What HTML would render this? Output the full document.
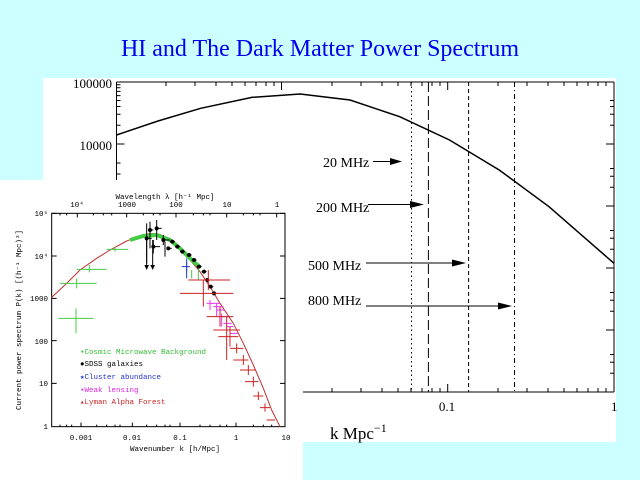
<!DOCTYPE html>
<html><head><meta charset="utf-8"><style>
html,body{margin:0;padding:0;width:640px;height:480px;overflow:hidden;background:#ccffff}
svg{display:block}
</style></head><body>
<svg width="640" height="480" xmlns="http://www.w3.org/2000/svg">
<rect width="640" height="480" fill="#ccffff"/>
<text x="320" y="56" text-anchor="middle" font-family="Liberation Serif, serif" font-size="24" fill="#0000ee">HI and The Dark Matter Power Spectrum</text>
<!-- main panel -->
<rect x="43" y="78" width="573" height="364" fill="#fff"/>
<g stroke="#000" fill="none" stroke-width="1">
<line x1="116.5" y1="82" x2="614" y2="82"/>
<line x1="614" y1="82" x2="614" y2="392"/>
<line x1="116.5" y1="82" x2="116.5" y2="180"/>
<line x1="300" y1="392" x2="614" y2="392"/>
<!-- y ticks -->
<path d="M116.5 82h8M116.5 144h8M614 82h-8M614 144h-8M614 206h-8M614 268h-8M614 330h-8
M116.5 125.3h4M116.5 114.3h4M116.5 106.5h4M116.5 100.5h4M116.5 95.6h4M116.5 91.4h4M116.5 87.8h4M116.5 84.8h4
M116.5 163h4M116.5 174h4
M614 125.3h-4M614 114.3h-4M614 106.5h-4M614 100.5h-4M614 187.3h-4M614 176.3h-4M614 168.5h-4M614 249.3h-4M614 238.3h-4M614 230.5h-4M614 311.3h-4M614 300.3h-4M614 292.5h-4M614 373.3h-4M614 362.3h-4M614 354.5h-4"/>
<!-- x ticks top -->
<path d="M166 82v4M195 82v4M216 82v4M232 82v4M245 82v4M256 82v4M266 82v4M274 82v4M281.5 82v8M332 82v4M361 82v4M382 82v4M398 82v4M411 82v4M422 82v4M432 82v4M440 82v4M447.7 82v8M498 82v4M527 82v4M548 82v4M564 82v4M577 82v4M588 82v4M598 82v4M606 82v4"/>
<path d="M332 392v-4M361 392v-4M382 392v-4M398 392v-4M411 392v-4M422 392v-4M432 392v-4M440 392v-4M447.7 392v-8M498 392v-4M527 392v-4M548 392v-4M564 392v-4M577 392v-4M588 392v-4M598 392v-4M606 392v-4"/>
<polyline stroke-width="1.5" points="116.5,135 158,121 200.7,108.3 252.4,97.3 300.2,94 350,100 399.7,116.7 449.5,140 499.2,170 549,206.7 614,263.3"/>
<line x1="411.5" y1="82" x2="411.5" y2="392" stroke-dasharray="1.5,3"/>
<line x1="428.4" y1="82" x2="428.4" y2="392" stroke-dasharray="10,4"/>
<line x1="468.6" y1="82" x2="468.6" y2="392" stroke-dasharray="4,3"/>
<line x1="514.5" y1="82" x2="514.5" y2="392" stroke-dasharray="5,3,1,3"/>
<line x1="373" y1="161.5" x2="392" y2="161.5"/>
<line x1="368" y1="204.5" x2="412" y2="204.5"/>
<line x1="366" y1="263" x2="454" y2="263"/>
<line x1="366" y1="306" x2="500" y2="306"/>
</g>
<g fill="#000">
<polygon points="390,158 402,161.5 390,165"/>
<polygon points="410,201 424,204.5 410,208"/>
<polygon points="452,259.5 466,263 452,266.5"/>
<polygon points="498,302.5 512,306 498,309.5"/>
</g>
<g font-family="Liberation Serif, serif" font-size="14" fill="#000">
<text x="112" y="88" text-anchor="end" font-size="13">100000</text>
<text x="112" y="150" text-anchor="end" font-size="13">10000</text>
<text x="323" y="167">20 MHz</text>
<text x="316" y="212">200 MHz</text>
<text x="308" y="270">500 MHz</text>
<text x="308" y="305">800 MHz</text>
<text x="447" y="411" text-anchor="middle" font-size="13">0.1</text>
<text x="611" y="411" font-size="13">1</text>
<text x="330" y="439" font-size="17">k  Mpc<tspan dy="-7" font-size="12">−1</tspan></text>
</g>
<!-- inset -->
<rect x="0" y="180" width="303" height="300" fill="#fff"/>
<g transform="translate(0,180) scale(0.33333)" fill="none" stroke-width="3">
<rect x="155" y="100" width="700" height="640" stroke="#000"/>
<path stroke="#000" d="M155 100h15M155 228h15M155 355h15M155 482h15M155 610h15M155 740h-0M855 100h-15M855 228h-15M855 355h-15M855 482h-15M855 610h-15
M243 740v-12M397 740v-12M540 740v-12M708 740v-12M232 100v12M380 100v12M528 100v12M680 100v12M830 100v12
M180 740v-6M200 740v-6M215 740v-6M290 740v-6M320 740v-6M345 740v-6M360 740v-6M440 740v-6M470 740v-6M495 740v-6M510 740v-6M600 740v-6M630 740v-6M660 740v-6M680 740v-6M760 740v-6M790 740v-6M815 740v-6
M180 100v6M200 100v6M280 100v6M310 100v6M335 100v6M430 100v6M460 100v6M480 100v6M580 100v6M610 100v6M630 100v6M730 100v6M760 100v6M780 100v6"/>
<polyline stroke="#c03030" points="155,352 200,310 240,270 290,235 330,210 380,183 420,168 450,160 480,163 510,180 540,205 570,240 600,275 630,320 660,370 700,430 730,490 760,555 790,625 815,690 840,740"/>
<!-- CMB -->
<g stroke="#44cc44">
<path d="M175 415h105M228 385v75M180 310h110M230 295v30M230 268h90M268 255v22M320 208h65M345 200v15"/>
<path stroke-width="12" d="M390 180 L430 168 L470 165 L510 180 L540 205 L570 235 L600 262"/>
<path d="M595 250v50M575 270v25M560 245v30"/>
</g>
<!-- SDSS -->
<g stroke="#000">
<path d="M440 175h15M440 130v120M450 150h10M450 125v80M470 145h15M470 120v60M460 200h20M460 180v40M490 180h20M490 165v30M500 205h15M495 185v45M510 185h15M525 200h15M540 215h15M560 225h15M575 240h15M590 260h15M605 275h15M615 300h15M625 320h15M635 340h15"/>
<path d="M440 180v80M458 180v80"/>
</g>
<g fill="#000"><circle cx="440" cy="175" r="6"/><circle cx="450" cy="150" r="6"/><circle cx="470" cy="145" r="6"/><circle cx="460" cy="200" r="6"/><circle cx="490" cy="180" r="6"/><circle cx="505" cy="205" r="6"/><circle cx="517" cy="185" r="6"/><circle cx="532" cy="200" r="6"/><circle cx="547" cy="215" r="6"/><circle cx="567" cy="225" r="6"/><circle cx="582" cy="240" r="6"/><circle cx="597" cy="260" r="6"/><circle cx="612" cy="275" r="6"/><circle cx="622" cy="300" r="6"/><circle cx="632" cy="320" r="6"/><circle cx="642" cy="340" r="6"/>
<polygon points="433,255 447,255 440,270"/><polygon points="451,255 465,255 458,270"/></g>
<path stroke="#2233cc" d="M545 260h25M560 235v60"/>
<!-- weak lensing -->
<path stroke="#ee33ee" d="M620 370h40M630 360v30M640 380h30M650 390h25M660 410h30M670 430h25M680 440h20M690 460h25M650 370v40M665 400v40"/>
<!-- Lyman -->
<path stroke="#cc2222" d="M565 300h125M625 270v60M540 340h160M610 300v80M620 410h80M660 380v60M640 450h80M680 410v130M655 470h60M690 440v60M690 505h40M710 490v30M700 540h45M730 525v30M720 570h45M745 555v30M735 605h40M760 590v30M760 648h30M775 635v25M780 683h30M795 670v25M800 720h25"/>
</g>
<g font-family="Liberation Mono, DejaVu Sans Mono, monospace" font-size="7.5">
<text x="165" y="199" text-anchor="middle">Wavelength λ [h⁻¹ Mpc]</text>
<text x="77" y="207" text-anchor="middle">10⁴</text>
<text x="127" y="207" text-anchor="middle">1000</text>
<text x="176" y="207" text-anchor="middle">100</text>
<text x="227" y="207" text-anchor="middle">10</text>
<text x="277" y="207" text-anchor="middle">1</text>
<text x="48" y="216" text-anchor="end">10⁵</text>
<text x="48" y="259" text-anchor="end">10⁴</text>
<text x="48" y="301" text-anchor="end">1000</text>
<text x="48" y="344" text-anchor="end">100</text>
<text x="48" y="386" text-anchor="end">10</text>
<text x="48" y="429" text-anchor="end">1</text>
<text x="81" y="440" text-anchor="middle">0.001</text>
<text x="132" y="440" text-anchor="middle">0.01</text>
<text x="180" y="440" text-anchor="middle">0.1</text>
<text x="236" y="440" text-anchor="middle">1</text>
<text x="286" y="440" text-anchor="middle">10</text>
<text x="175" y="451" text-anchor="middle">Wavenumber k [h/Mpc]</text>
<text transform="translate(21,320) rotate(-90)" text-anchor="middle">Current power spectrum P(k) [(h⁻¹ Mpc)³]</text>
<text x="80" y="354" fill="#33bb33">▪Cosmic Microwave Background</text>
<text x="80" y="366" fill="#000">●SDSS galaxies</text>
<text x="80" y="379" fill="#2233cc">★Cluster abundance</text>
<text x="80" y="392" fill="#dd22dd">▪Weak lensing</text>
<text x="80" y="404" fill="#cc2222">▴Lyman Alpha Forest</text>
</g>
</svg>
</body></html>
